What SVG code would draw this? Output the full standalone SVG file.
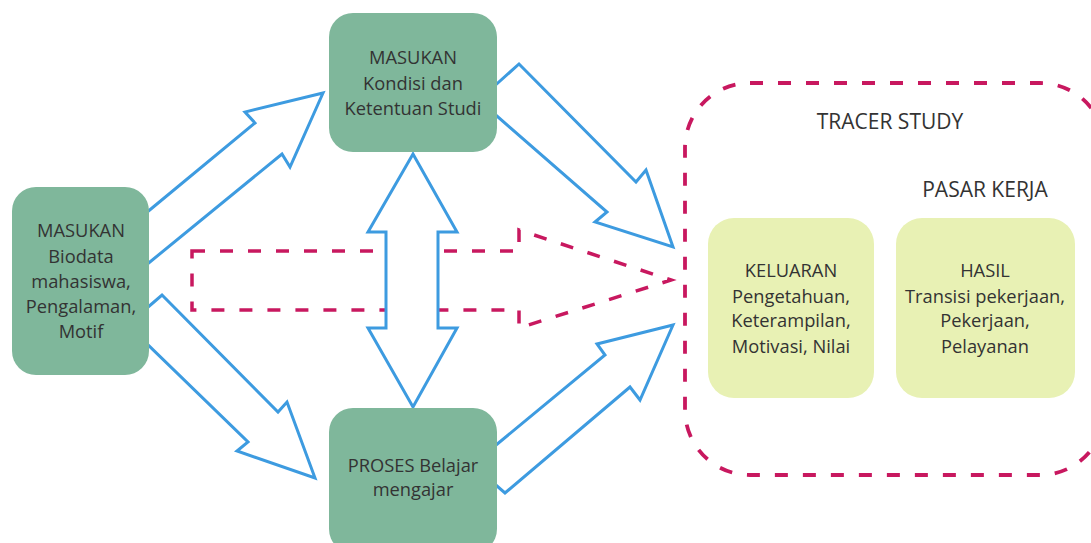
<svg xmlns="http://www.w3.org/2000/svg" width="1091" height="543" viewBox="0 0 1091 543">
<defs>
<style>
.green{fill:#7fb79b;}
.lime{fill:#e8f1b4;}
.blue{fill:#ffffff;stroke:#3d9be0;stroke-width:3;stroke-linejoin:miter;}
.dash{fill:none;stroke:#c8185f;stroke-width:3.8;stroke-dasharray:13 15;}
.dasharrow{fill:#ffffff;stroke:#c8185f;stroke-width:3.5;stroke-dasharray:13 15;}
text{font-family:"Open Sans","Noto Sans","Liberation Sans",sans-serif;font-size:18.3px;fill:#333333;text-anchor:middle;}
.title{font-size:21px;}
</style>
</defs>
<rect width="1091" height="543" fill="#ffffff"/>
<g id="tracer-study">
<rect class="dash" x="685" y="83" width="420" height="392" rx="65" ry="65"/>
<text class="title" x="890" y="129">TRACER STUDY</text>
<text class="title" x="985" y="197">PASAR KERJA</text>
</g>
<g id="connectors">
<polygon class="dasharrow" points="192,251 519,251 519,230 671,280 519,328 519,310 192,310"/>
<polygon class="blue" points="386,232 368,232 413,154 457,232 438,232 438,328 457,328 413,407 368,328 386,328"/>
<polygon class="blue" points="140,218 255,123 245,112 323,93 290,167 282,154 145,266"/>
<polygon class="blue" points="140,314 162,295 278,412 287,402 315,478 237,451 248,442 140,337"/>
<polygon class="blue" points="490,90 519,64 636,182 646,170 673,247 595,222 607,212 490,110"/>
<polygon class="blue" points="490,450 605,355 597,344 673,325 640,400 630,387 505,493 490,480"/>
</g>
<g id="masukan-kondisi">
<rect class="green" x="329" y="13" width="168" height="139" rx="24" ry="24"/>
<text x="413" y="64">MASUKAN</text>
<text x="413" y="90">Kondisi dan</text>
<text x="413" y="115">Ketentuan Studi</text>
</g>
<g id="masukan-biodata">
<rect class="green" x="12" y="187" width="137" height="188" rx="24" ry="24"/>
<text x="81" y="237">MASUKAN</text>
<text x="81" y="263">Biodata</text>
<text x="81" y="288">mahasiswa,</text>
<text x="81" y="313">Pengalaman,</text>
<text x="81" y="338">Motif</text>
</g>
<g id="proses">
<rect class="green" x="329" y="408" width="168" height="145" rx="24" ry="24"/>
<text x="413" y="472">PROSES Belajar</text>
<text x="413" y="496">mengajar</text>
</g>
<g id="keluaran">
<rect class="lime" x="708" y="218" width="166" height="180" rx="26" ry="26"/>
<text x="791" y="277">KELUARAN</text>
<text x="791" y="303">Pengetahuan,</text>
<text x="791" y="327">Keterampilan,</text>
<text x="791" y="353">Motivasi, Nilai</text>
</g>
<g id="hasil">
<rect class="lime" x="896" y="218" width="179" height="180" rx="26" ry="26"/>
<text x="985" y="277">HASIL</text>
<text x="985" y="303">Transisi pekerjaan,</text>
<text x="985" y="327">Pekerjaan,</text>
<text x="985" y="353">Pelayanan</text>
</g>
</svg>
